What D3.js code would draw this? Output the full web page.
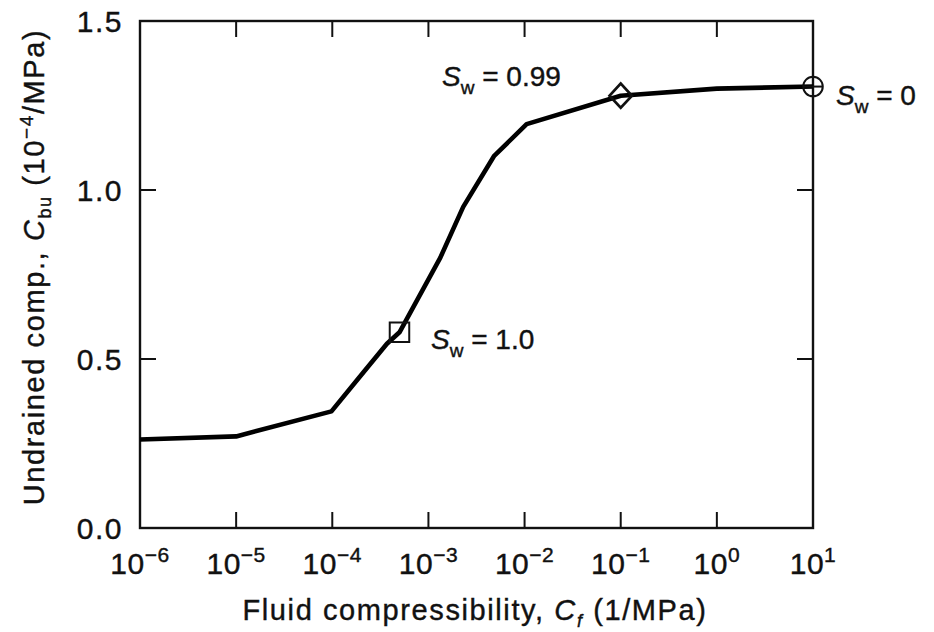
<!DOCTYPE html>
<html lang="en">
<head>
<meta charset="utf-8" />
<script src="https://d3js.org/d3.v7.min.js"></script>
<style>
  body { margin: 0; background: #fff; }
  svg { font-family: "Liberation Sans", Arial, sans-serif; }
  svg text { stroke: #111; stroke-width: 0.4px; }
</style>
</head>
<body>
<svg id="chart" width="934" height="632"></svg>
<script>
// curve: fluid compressibility (1/MPa) vs undrained compressibility (1e-4/MPa)
let cf = [1e-6, 1e-5, 9.8e-5, 2.1e-4, 3.7e-4, 5.0e-4, 1.33e-3, 2.3e-3, 4.8e-3, 1.05e-2, 1e-1, 1, 10];
let cbu = [0.262, 0.271, 0.345, 0.46, 0.545, 0.579, 0.80, 0.95, 1.10, 1.195, 1.279, 1.30, 1.306];

// marked points
let markerX = [5.0e-4, 1e-1, 10];
let markerY = [0.579, 1.279, 1.306];
let markerShape = ["square", "diamond", "circle"];
let markerSw = ["1.0", "0.99", "0"];

let xExp = [-6, -5, -4, -3, -2, -1, 0, 1];
let yTicks = [0.0, 0.5, 1.0, 1.5];

let svg = d3.select("#chart");
let pLeft = 140, pRight = 813, pTop = 21, pBottom = 528;

let x = d3.scaleLog().domain([1e-6, 10]).range([pLeft, pRight]);
let y = d3.scaleLinear().domain([0, 1.5]).range([pBottom, pTop]);

// frame
svg.append("rect")
  .attr("x", pLeft).attr("y", pTop)
  .attr("width", pRight - pLeft).attr("height", pBottom - pTop)
  .attr("fill", "none").attr("stroke", "#111").attr("stroke-width", 2.4);

// ticks, all pointing inward
let tickLen = 16;
xExp.slice(1, -1).forEach(function (e) {
  let px = x(Math.pow(10, e));
  svg.append("line").attr("x1", px).attr("x2", px)
    .attr("y1", pBottom).attr("y2", pBottom - tickLen)
    .attr("stroke", "#111").attr("stroke-width", 2);
  svg.append("line").attr("x1", px).attr("x2", px)
    .attr("y1", pTop).attr("y2", pTop + tickLen)
    .attr("stroke", "#111").attr("stroke-width", 2);
});
yTicks.slice(1, -1).forEach(function (v) {
  let py = y(v);
  svg.append("line").attr("x1", pLeft).attr("x2", pLeft + tickLen)
    .attr("y1", py).attr("y2", py)
    .attr("stroke", "#111").attr("stroke-width", 2);
  svg.append("line").attr("x1", pRight).attr("x2", pRight - tickLen)
    .attr("y1", py).attr("y2", py)
    .attr("stroke", "#111").attr("stroke-width", 2);
});

// x tick labels
xExp.forEach(function (e) {
  let t = svg.append("text")
    .attr("x", x(Math.pow(10, e)))
    .attr("y", 574)
    .attr("text-anchor", "middle")
    .attr("font-size", 30)
    .attr("letter-spacing", 0.5)
    .attr("fill", "#111");
  t.append("tspan").text("10");
  t.append("tspan").attr("dy", -12).attr("font-size", 21)
    .text(e < 0 ? "\u2212" + (-e) : String(e));
});

// y tick labels
yTicks.forEach(function (v) {
  svg.append("text")
    .attr("x", 123)
    .attr("y", y(v) + 11)
    .attr("text-anchor", "end")
    .attr("font-size", 30)
    .attr("letter-spacing", 1.5)
    .attr("fill", "#111")
    .text(v.toFixed(1));
});

// x axis title
let xt = svg.append("text")
  .attr("x", 475).attr("y", 620)
  .attr("text-anchor", "middle")
  .attr("font-size", 29)
  .attr("letter-spacing", 1.6)
  .attr("fill", "#111");
xt.append("tspan").text("Fluid compressibility, ");
xt.append("tspan").attr("font-style", "italic").text("C");
xt.append("tspan").attr("dy", 7).attr("font-size", 18).attr("font-style", "italic").text("f");
xt.append("tspan").attr("dy", -7).text(" (1/MPa)");

// y axis title
let yt = svg.append("text")
  .attr("transform", "translate(44,267) rotate(-90)")
  .attr("text-anchor", "middle")
  .attr("font-size", 29)
  .attr("letter-spacing", 1.6)
  .attr("fill", "#111");
yt.append("tspan").text("Undrained comp., ");
yt.append("tspan").attr("font-style", "italic").text("C");
yt.append("tspan").attr("dy", 7).attr("font-size", 18).text("bu");
yt.append("tspan").attr("dy", -7).text(" (10");
yt.append("tspan").attr("dy", -11).attr("font-size", 19).text("\u22124");
yt.append("tspan").attr("dy", 11).text("/MPa)");

// curve
let line = d3.line()
  .x(function (d) { return x(d[0]); })
  .y(function (d) { return y(d[1]); });
svg.append("path")
  .datum(d3.zip(cf, cbu))
  .attr("d", line)
  .attr("fill", "none")
  .attr("stroke", "#000")
  .attr("stroke-width", 4.6)
  .attr("stroke-linejoin", "round");

// markers
markerX.forEach(function (mx, i) {
  let px = x(mx), py = y(markerY[i]);
  let shape = markerShape[i];
  let sym = shape === "square" ? d3.symbolSquare : shape === "diamond" ? d3.symbolDiamond : d3.symbolCircle;
  let size = shape === "circle" ? 300 : shape === "diamond" ? 170 : 380;
  svg.append("path")
    .attr("transform", "translate(" + px + "," + py + ")" + (shape === "diamond" ? " scale(1.6,1)" : ""))
    .attr("d", d3.symbol().type(sym).size(size)())
    .attr("fill", "none")
    .attr("stroke", "#111")
    .attr("stroke-width", 2);
  if (shape === "circle") {
    svg.append("line").attr("x1", px - 10).attr("x2", px + 10)
      .attr("y1", py).attr("y2", py)
      .attr("stroke", "#111").attr("stroke-width", 2);
  }
});

// S_w labels
function swLabel(lx, ly, val) {
  let t = svg.append("text")
    .attr("x", lx).attr("y", ly)
    .attr("font-size", 28).attr("fill", "#111");
  t.append("tspan").attr("font-style", "italic").text("S");
  t.append("tspan").attr("dy", 8).attr("font-size", 19).text("w");
  t.append("tspan").attr("dy", -8).text(" = " + val);
}
swLabel(442, 86, markerSw[1]);
swLabel(431, 349, markerSw[0]);
swLabel(836, 105, markerSw[2]);
</script>
</body>
</html>
